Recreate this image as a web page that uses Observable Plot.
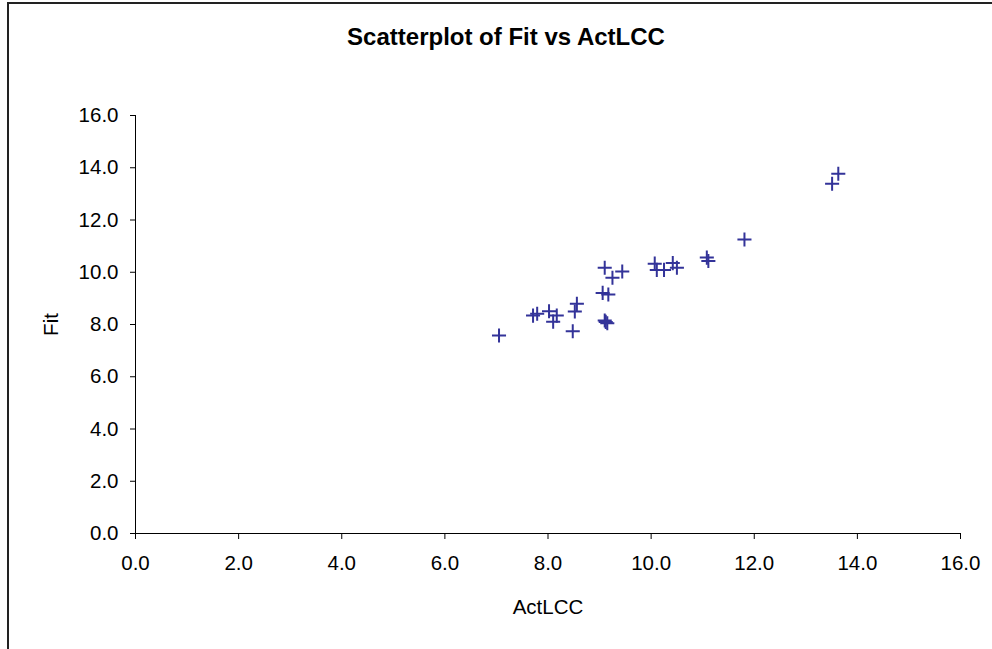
<!DOCTYPE html>
<html>
<head>
<meta charset="utf-8">
<script src="https://cdn.jsdelivr.net/npm/d3@7"></script>
<script src="https://cdn.jsdelivr.net/npm/@observablehq/plot@0.6"></script>
<style>
  html, body { margin: 0; padding: 0; background: #fff; overflow: hidden; }
  #wrap { position: relative; width: 992px; height: 649px; overflow: hidden; font-family: "Liberation Sans", Arial, sans-serif; }
  #frame { position: absolute; left: 7px; top: 2px; width: 1200px; height: 900px; border: 2px solid #222; box-sizing: border-box; pointer-events: none; }
  #title { position: absolute; left: 0; top: 0; width: 1012px; height: 60px; text-align: center; font-weight: bold; font-size: 24px; line-height: 28px; padding-top: 23px; box-sizing: border-box; color: #000; }
  #chart { position: absolute; left: 0; top: 60px; }
</style>
</head>
<body>
<div id="wrap">
  <div id="frame"></div>
  <div id="title">Scatterplot of Fit vs ActLCC</div>
  <div id="chart"></div>
</div>
<script>
const actLCC = [7.05, 7.71, 7.79, 8.02, 8.10, 8.17, 8.48, 8.52, 8.56, 9.06, 9.17, 9.10, 9.25, 9.44, 9.10, 9.15, 9.12, 10.07, 10.11, 10.25, 10.42, 10.50, 11.08, 11.11, 11.81, 13.51, 13.63];
const fit    = [7.58, 8.34, 8.41, 8.51, 8.11, 8.34, 7.74, 8.50, 8.79, 9.21, 9.15, 10.17, 9.79, 10.03, 8.15, 8.05, 8.10, 10.33, 10.09, 10.09, 10.35, 10.17, 10.56, 10.43, 11.25, 13.39, 13.77];
const tickValues = [0, 2, 4, 6, 8, 10, 12, 14, 16];

const data = actLCC.map((x, i) => ({x, y: fit[i]}));

const plot = Plot.plot({
  width: 992,
  height: 589,
  marginLeft: 135,
  marginRight: 32,
  marginTop: 55,
  marginBottom: 116,
  style: {fontFamily: '"Liberation Sans", Arial, sans-serif', fontSize: "20.5px", color: "#000", background: "transparent"},
  x: {domain: [0, 16]},
  y: {domain: [0, 16]},
  marks: [
    Plot.ruleY([0], {stroke: "#000", strokeWidth: 1}),
    Plot.ruleX([0], {stroke: "#000", strokeWidth: 1}),
    Plot.axisX({ticks: tickValues, tickFormat: d3.format(".1f"), tickSize: 6, tickPadding: 16, label: "ActLCC", labelAnchor: "center", labelArrow: "none", labelOffset: 80, stroke: "#000"}),
    Plot.axisY({ticks: tickValues, tickFormat: d3.format(".1f"), tickSize: 5, tickPadding: 12, label: "Fit", labelAnchor: "center", labelArrow: "none", labelOffset: 92, stroke: "#000"}),
    Plot.dot(data, {x: "x", y: "y", symbol: "plus", r: 4.6, stroke: "#333399", strokeWidth: 2})
  ]
});
document.getElementById("chart").appendChild(plot);
</script>
</body>
</html>
